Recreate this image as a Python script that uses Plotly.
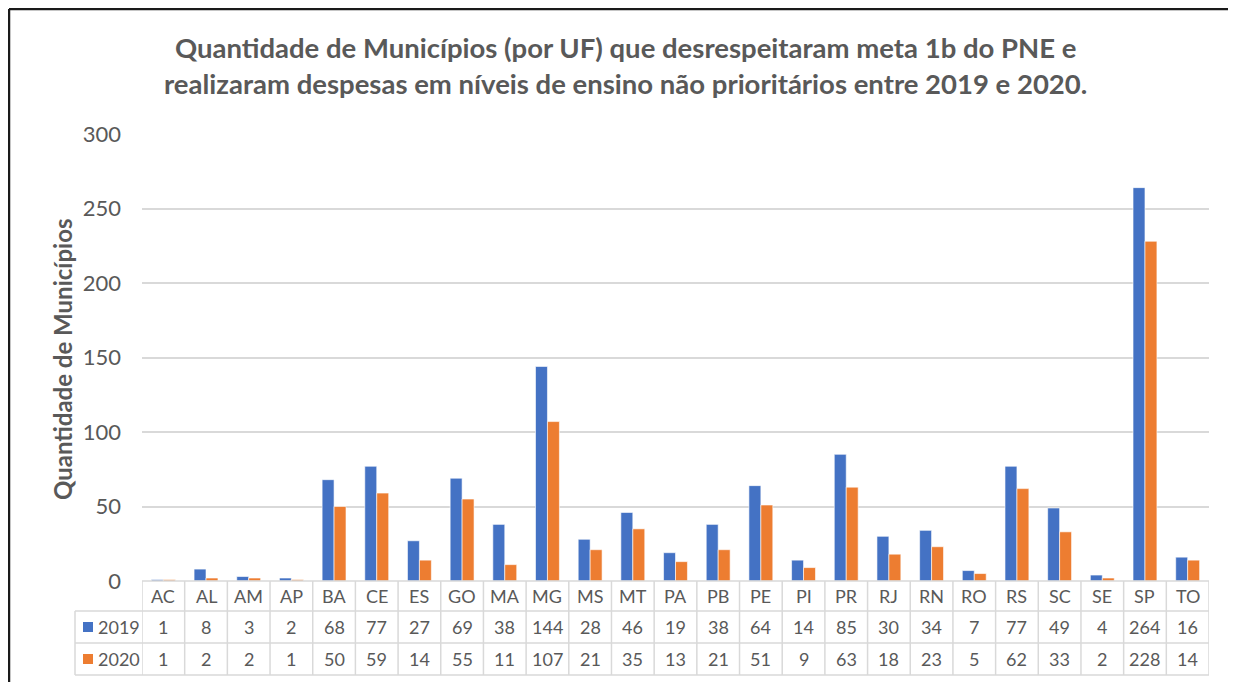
import plotly.graph_objects as go

ufs = ["AC","AL","AM","AP","BA","CE","ES","GO","MA","MG","MS","MT","PA","PB","PE","PI","PR","RJ","RN","RO","RS","SC","SE","SP","TO"]
v2019 = [1,8,3,2,68,77,27,69,38,144,28,46,19,38,64,14,85,30,34,7,77,49,4,264,16]
v2020 = [1,2,2,1,50,59,14,55,11,107,21,35,13,21,51,9,63,18,23,5,62,33,2,228,14]
series_names = ["2019", "2020"]
colors = ["#4472C4", "#ED7D31"]
title_text = ("Quantidade de Municípios (por UF) que desrespeitaram meta 1b do PNE e<br>"
              "realizaram despesas em níveis de ensino não prioritários entre 2019 e 2020.")
y_title = "Quantidade de Municípios"
y_ticks = [0, 50, 100, 150, 200, 250, 300]

OFF = 8  # page body margin
W, H = 1228, 674
L, R, T, B = 134, 27, 126, 101
ph = H - T - B
pw = W - L - R
FONT = "Lato"
GREY = "#595959"
LINE = "#D9D9D9"

def py(pix):
    return (H - B - (pix - OFF)) / ph

def px(pix):
    return (pix - OFF - L) / pw

fig = go.Figure()
for name, vals, c in zip(series_names, [v2019, v2020], colors):
    fig.add_trace(go.Bar(x=ufs, y=vals, name=name, marker=dict(color=c, line=dict(color="white", width=0.6)),
                         showlegend=False))

shapes = []
annotations = []
n = len(ufs)
row_edges = [581, 611, 643, 675]
shapes.append(dict(type="line", xref="paper", yref="paper", x0=0, x1=1, y0=py(581), y1=py(581),
                   line=dict(color=LINE, width=1.5)))
for yy in row_edges[1:]:
    shapes.append(dict(type="line", xref="paper", yref="paper", x0=px(75), x1=1, y0=py(yy), y1=py(yy),
                       line=dict(color=LINE, width=1.5)))
for i in range(n + 1):
    shapes.append(dict(type="line", xref="x", yref="paper", x0=i - 0.5, x1=i - 0.5, y0=py(581), y1=py(675),
                       line=dict(color=LINE, width=1.5)))
shapes.append(dict(type="line", xref="paper", yref="paper", x0=px(75), x1=px(75), y0=py(611), y1=py(675),
                   line=dict(color=LINE, width=1.5)))
for k, c in enumerate(colors):
    cy = (row_edges[k + 1] + row_edges[k + 2]) / 2
    shapes.append(dict(type="rect", xref="paper", yref="paper", x0=px(83), x1=px(93), y0=py(cy + 5), y1=py(cy - 5),
                       fillcolor=c, line=dict(width=0)))
    annotations.append(dict(xref="paper", yref="paper", x=px(96), y=py(cy), text=series_names[k], showarrow=False,
                            xanchor="left", yanchor="middle", font=dict(family=FONT, size=18, color=GREY)))
for i, u in enumerate(ufs):
    rows = [u, str(v2019[i]), str(v2020[i])]
    for r, t in enumerate(rows):
        cy = (row_edges[r] + row_edges[r + 1]) / 2
        annotations.append(dict(xref="x", yref="paper", x=i, y=py(cy), text=t, showarrow=False,
                                xanchor="center", yanchor="middle", font=dict(family=FONT, size=18, color=GREY)))
# outer border (top and left edges only are visible in the reference)
shapes.append(dict(type="line", xref="paper", yref="paper", x0=px(9), x1=px(1240), y0=py(9), y1=py(9),
                   line=dict(color="#1a1a1a", width=2.5)))
shapes.append(dict(type="line", xref="paper", yref="paper", x0=px(9), x1=px(9), y0=py(9), y1=py(690),
                   line=dict(color="#1a1a1a", width=2.5)))
annotations.append(dict(xref="paper", yref="paper", x=px(62), y=py(360), text=y_title, showarrow=False,
                        textangle=-90, xanchor="center", yanchor="middle",
                        font=dict(family=FONT, size=24, color=GREY, weight="bold")))
annotations.append(dict(xref="paper", yref="paper", x=px(625), y=py(66), text=title_text, showarrow=False,
                        xanchor="center", yanchor="middle", align="center",
                        font=dict(family=FONT, size=27.5, color=GREY, weight="bold")))

fig.update_layout(
    width=W, height=H,
    margin=dict(l=L, r=R, t=T, b=B, pad=0),
    paper_bgcolor="white", plot_bgcolor="white",
    barmode="group", bargap=0.44, bargroupgap=0,
    xaxis=dict(showticklabels=False, showgrid=False, zeroline=False, showline=False, ticks="",
               range=[-0.5, n - 0.5]),
    yaxis=dict(range=[0, 300], tickvals=y_ticks, showgrid=True, gridcolor=LINE, gridwidth=1.5,
               zeroline=False, showline=False, ticks="", ticklabelstandoff=20,
               tickfont=dict(family=FONT, size=22, color=GREY)),
    shapes=shapes, annotations=annotations,
)
fig.write_html("out.html")
